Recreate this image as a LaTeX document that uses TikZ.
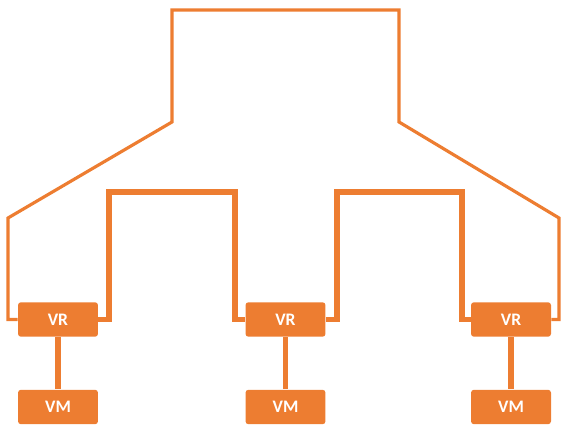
\documentclass[tikz,border=0pt]{standalone}
\usepackage{fontspec}
\setmainfont{Carlito}
\usepackage{tikz}

\definecolor{netorange}{HTML}{ED7D31}

\tikzset{
  box/.style={fill=netorange, rounded corners=0.06cm, minimum width=1.6cm,
    minimum height=0.69cm, inner sep=0pt, text=white,
    font=\fontsize{10}{11}\selectfont\bfseries},
  outer/.style={draw=netorange, line width=1.8pt},
  inner/.style={draw=netorange, line width=3pt},
  link/.style={draw=netorange, line width=3.4pt}
}

\begin{document}
\begin{tikzpicture}[x=0.02cm, y=-0.02cm]
\useasboundingbox (0,0) rectangle (564,425);
% routers and machines
\node[box] (vrA) at (58,319.5) {VR};
\node[box] (vrB) at (285.5,319.5) {VR};
\node[box] (vrC) at (511,319.5) {VR};
\node[box] (vmA) at (58,407) {VM};
\node[box] (vmB) at (285.5,407) {VM};
\node[box] (vmC) at (511,407) {VM};
\draw[link] (vrA) -- (vmA);
\draw[link] (vrB) -- (vmB);
\draw[link] (vrC) -- (vmC);
% outer loop
\draw[outer] (vrA.west) -| (8,218) -- (172,122) -- (172,10) -- (399,10)
  -- (399,122) -- (559,218) |- (vrC.east);
% inner links
\draw[inner] (vrA.east) -| (109,192) -- (235,192) |- (vrB.west);
\draw[inner] (vrB.east) -| (337,192) -- (462,192) |- (vrC.west);
\end{tikzpicture}
\end{document}
